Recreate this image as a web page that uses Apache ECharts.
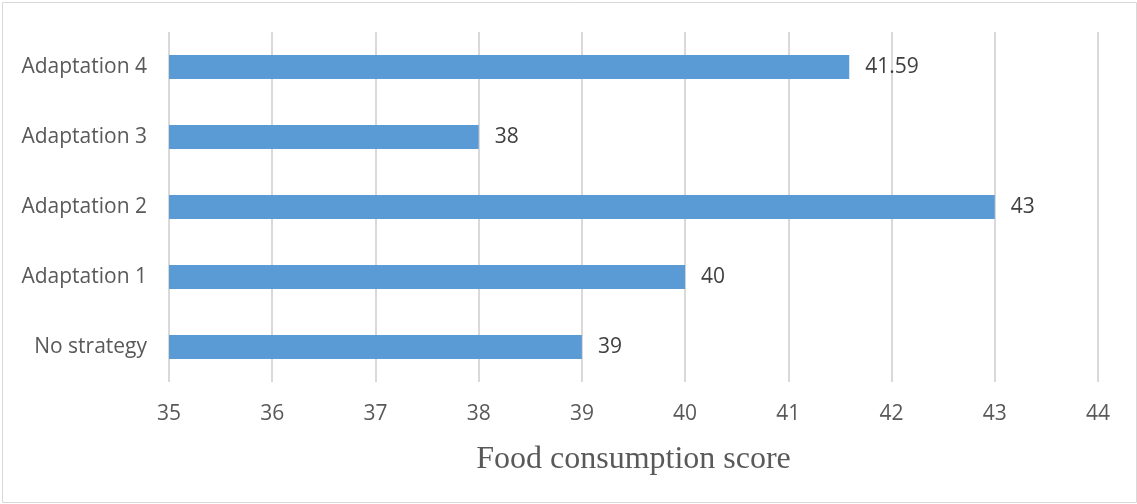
<!DOCTYPE html>
<html>
<head>
<meta charset="utf-8">
<script src="https://cdn.jsdelivr.net/npm/echarts@6/dist/echarts.min.js"></script>
<style>
  html, body { margin: 0; padding: 0; background: #ffffff; }
  #chart { width: 1137px; height: 504px; }
</style>
</head>
<body>
<div id="chart"></div>
<script>
// Strategy categories, listed bottom to top
const categories = ['No strategy', 'Adaptation 1', 'Adaptation 2', 'Adaptation 3', 'Adaptation 4'];
// Mean food consumption score per strategy
const scores = [39, 40, 43, 38, 41.59];
// Value axis range and step
const axisMin = 35;
const axisMax = 44;
const axisStep = 1;
const axisTitle = 'Food consumption score';

const chart = echarts.init(document.getElementById('chart'), null, { renderer: 'canvas' });

chart.setOption({
  animation: false,
  backgroundColor: '#ffffff',
  graphic: [{
    type: 'rect',
    shape: { x: 2.5, y: 2.5, width: 1134, height: 500 },
    style: { fill: 'none', stroke: '#d9d9d9', lineWidth: 1 },
    silent: true
  }],
  grid: { left: 169, right: 39, top: 32, bottom: 122, containLabel: false },
  xAxis: {
    type: 'value',
    min: axisMin,
    max: axisMax,
    interval: axisStep,
    name: axisTitle,
    nameLocation: 'middle',
    nameGap: 62,
    nameTextStyle: {
      fontFamily: 'Liberation Serif',
      fontSize: 32,
      color: '#595959'
    },
    axisLine: { show: false },
    axisTick: { show: false },
    axisLabel: {
      margin: 22,
      fontFamily: 'Open Sans',
      fontSize: 21,
      color: '#595959'
    },
    splitLine: { show: true, lineStyle: { color: '#d9d9d9', width: 2 } }
  },
  yAxis: {
    type: 'category',
    data: categories,
    axisLine: { show: false },
    axisTick: { show: false },
    axisLabel: {
      margin: 22,
      fontFamily: 'Open Sans',
      fontSize: 21,
      color: '#595959'
    },
    splitLine: { show: false }
  },
  series: [{
    type: 'bar',
    data: scores,
    barWidth: 24,
    itemStyle: { color: '#5b9bd5' },
    label: {
      show: true,
      position: 'right',
      distance: 16,
      fontFamily: 'Open Sans',
      fontSize: 21,
      color: '#404040'
    }
  }]
});
</script>
</body>
</html>
